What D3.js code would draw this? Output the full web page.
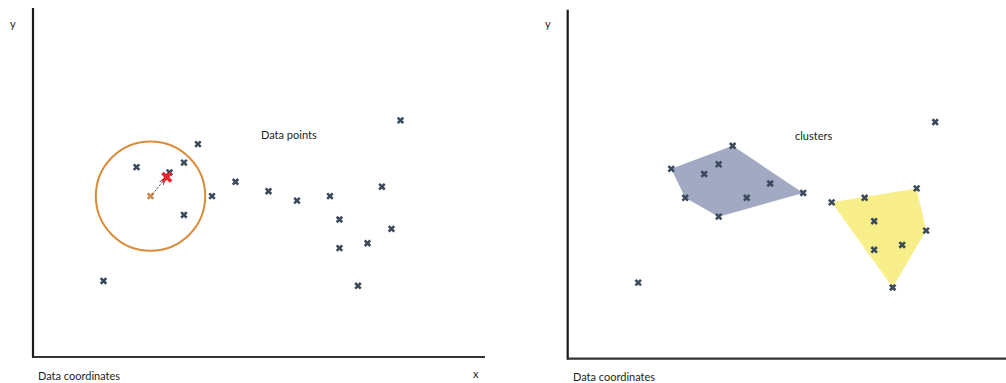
<!DOCTYPE html>
<html><head><meta charset="utf-8">
<script src="https://cdn.jsdelivr.net/npm/d3@7"></script>
<style>html,body{margin:0;padding:0;background:#fff;overflow:hidden}text{font-family:Lato,"Open Sans",sans-serif;fill:#1e1e1e}</style>
</head><body>
<svg id="c" width="1006" height="383"></svg>
<script>
// Data points (data coordinates, 0..100)
const xs = [81.3, 36.5, 22.9, 33.4, 30.2, 26.0, 39.6, 33.4, 44.8, 52.1, 58.4, 65.7, 77.2, 67.8, 79.3, 67.8, 74.0, 71.9, 15.6];
const ys = [67.8, 61.0, 54.4, 55.7, 52.9, 46.1, 46.1, 40.7, 50.2, 47.5, 44.8, 46.1, 48.8, 39.4, 36.7, 31.2, 32.6, 20.4, 21.8];
// cluster label per point: 0 = noise, 1 = blue cluster, 2 = yellow cluster
const clusterOf = [0, 1, 1, 1, 1, 1, 1, 1, 1, 1, 2, 2, 2, 2, 2, 2, 2, 2, 0];
const clusterColors = {1: "#a1aac2", 2: "#f8ef8a"};
// mean-shift window: centre point index, radius, shifted mean
const windowCenter = 5;
const windowRadius = 12.1;
const shiftedMean = [29.6, 51.5];
const labels = {left: "Data points", right: "clusters", axis: "Data coordinates"};

const svg = d3.select("#c");
const pts = xs.map((x, i) => ({x, y: ys[i], c: clusterOf[i]}));

svg.append("defs").append("marker")
  .attr("id", "ah").attr("viewBox", "0 0 10 10").attr("refX", 9).attr("refY", 5)
  .attr("markerWidth", 6).attr("markerHeight", 6).attr("orient", "auto")
  .append("path").attr("d", "M0,1L10,5L0,9").attr("fill", "none").attr("stroke", "#444").attr("stroke-width", 1.5);

function panel(ox, oy, axisEnd, mode) {
  const x = d3.scaleLinear().domain([0, 100]).range([ox, ox + 452]);
  const y = d3.scaleLinear().domain([0, 100]).range([oy, oy - 349]);
  const g = svg.append("g");
  const sym = d3.symbol().type(d3.symbolX).size(22);

  if (mode === "clusters") {
    [1, 2].forEach(c => {
      const hull = d3.polygonHull(pts.filter(p => p.c === c).map(p => [x(p.x), y(p.y)]));
      g.append("path").attr("d", "M" + hull.join("L") + "Z").attr("fill", clusterColors[c]);
    });
  }
  if (mode === "points") {
    const cp = pts[windowCenter];
    const r = x(windowRadius) - x(0);
    g.append("circle").attr("cx", x(cp.x)).attr("cy", y(cp.y)).attr("r", r)
      .attr("fill", "none").attr("stroke", "#da8c3a").attr("stroke-width", 2);
  }
  // axes
  g.append("line").attr("x1", ox).attr("x2", ox).attr("y1", y(100)).attr("y2", oy + 1)
    .attr("stroke", "#1a1a1a").attr("stroke-width", 2.2);
  g.append("line").attr("x1", ox).attr("x2", axisEnd).attr("y1", oy).attr("y2", oy)
    .attr("stroke", "#333").attr("stroke-width", 2.2);

  g.selectAll(".pt").data(pts).join("path").attr("class", "pt")
    .attr("d", sym)
    .attr("transform", p => `translate(${x(p.x)},${y(p.y)})`)
    .attr("stroke", (p, i) => (mode === "points" && i === windowCenter) ? "#c98a4e" : "#3b4b5c")
    .attr("stroke-width", 2.6).attr("fill", "none");

  if (mode === "points") {
    const cp = pts[windowCenter];
    g.append("line").attr("x1", x(cp.x) + 2).attr("y1", y(cp.y) - 2)
      .attr("x2", x(shiftedMean[0]) - 2).attr("y2", y(shiftedMean[1]) + 2)
      .attr("stroke", "#444").attr("stroke-width", 1).attr("stroke-dasharray", "2,1.5")
      .attr("marker-end", "url(#ah)");
    g.append("path").attr("d", d3.symbol().type(d3.symbolX).size(50))
      .attr("transform", `translate(${x(shiftedMean[0])},${y(shiftedMean[1])})`)
      .attr("stroke", "#e8232b").attr("stroke-width", 3.6).attr("fill", "none");
  }
  return {x, y};
}

panel(33, 357, 485, "points");
panel(567.7, 358.7, 1006, "clusters");

function txt(t, x, y) { svg.append("text").attr("x", x).attr("y", y).attr("font-size", 11).text(t); }
txt("y", 10, 28);
txt("y", 545, 28);
txt(labels.axis, 38, 380);
txt(labels.axis, 573, 381);
txt("x", 473, 378);
txt(labels.left, 261, 139);
txt(labels.right, 795, 140);
</script>
</body></html>
